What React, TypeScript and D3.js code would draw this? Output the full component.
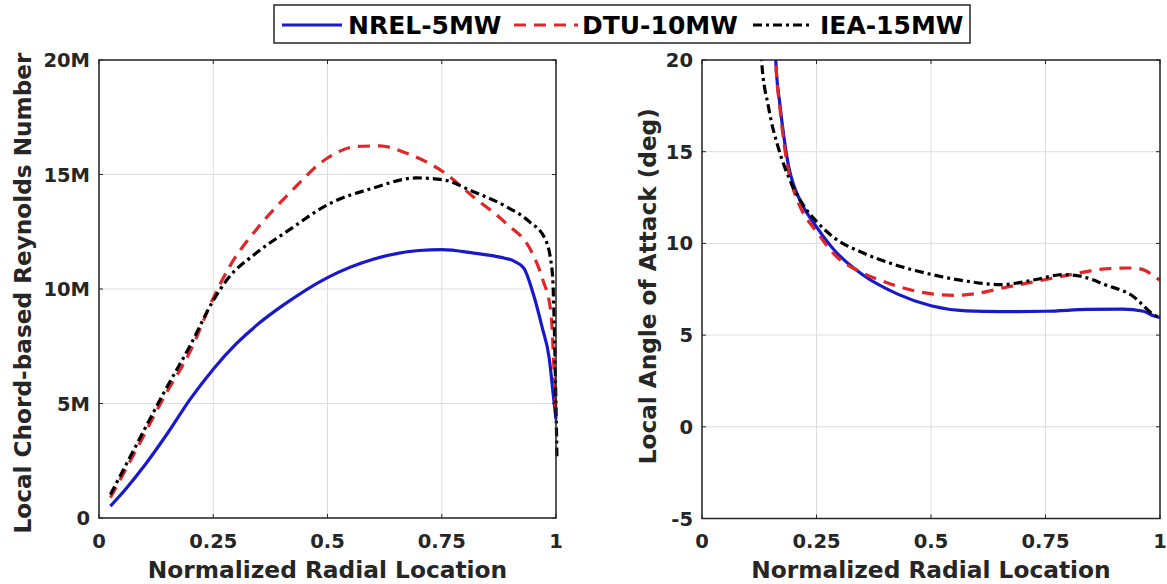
import React from "react";
import * as d3 from "d3";

// ---------- data ----------
const seriesNames = ["NREL-5MW", "DTU-10MW", "IEA-15MW"];
const xTicks = [0, 0.25, 0.5, 0.75, 1];
const xTickLabels = ["0", "0.25", "0.5", "0.75", "1"];
const reTicks = [0, 5, 10, 15, 20];
const reTickLabels = ["0", "5M", "10M", "15M", "20M"];
const aoaTicks = [-5, 0, 5, 10, 15, 20];
const aoaTickLabels = ["-5", "0", "5", "10", "15", "20"];

// Reynolds number (millions)
const reNrelR = [0.025, 0.06, 0.1, 0.15, 0.2, 0.25, 0.3, 0.35, 0.4, 0.5, 0.6, 0.7, 0.75, 0.82, 0.88, 0.91, 0.93, 0.95, 0.97, 0.985, 0.995, 1.0];
const reNrelV = [0.52, 1.3, 2.3, 3.7, 5.2, 6.5, 7.6, 8.5, 9.25, 10.5, 11.3, 11.68, 11.72, 11.57, 11.38, 11.2, 10.9, 9.8, 8.3, 7.0, 5.2, 4.3];
const reDtuR = [0.025, 0.09, 0.14, 0.2, 0.25, 0.286, 0.344, 0.417, 0.5, 0.563, 0.614, 0.672, 0.752, 0.818, 0.89, 0.948, 0.971, 0.989, 0.996, 1.0];
const reDtuV = [0.89, 3.3, 5.2, 7.3, 9.6, 10.99, 12.59, 14.19, 15.72, 16.22, 16.25, 15.94, 15.13, 14.04, 12.88, 11.57, 10.41, 8.96, 6.34, 4.6];
const reIeaR = [0.025, 0.09, 0.14, 0.2, 0.25, 0.28, 0.344, 0.417, 0.5, 0.6, 0.694, 0.752, 0.818, 0.89, 0.941, 0.977, 0.992, 0.997, 1.0, 1.002];
const reIeaV = [1.03, 3.5, 5.4, 7.55, 9.5, 10.4, 11.57, 12.59, 13.68, 14.41, 14.85, 14.77, 14.26, 13.61, 12.95, 12.15, 10.7, 7.79, 4.88, 2.7];

// Angle of attack (deg)
const aoaNrelR = [0.157, 0.161, 0.17, 0.18, 0.19, 0.2, 0.215, 0.25, 0.29, 0.35, 0.426, 0.5, 0.577, 0.653, 0.75, 0.842, 0.918, 0.964, 0.986, 1.0];
const aoaNrelV = [23, 20, 17.6, 15.6, 14.1, 13.2, 12.3, 10.9, 9.6, 8.3, 7.25, 6.6, 6.32, 6.28, 6.3, 6.4, 6.42, 6.3, 6.05, 5.95];
const aoaDtuR = [0.157, 0.161, 0.17, 0.18, 0.19, 0.2, 0.215, 0.25, 0.289, 0.35, 0.388, 0.45, 0.502, 0.556, 0.607, 0.653, 0.75, 0.805, 0.88, 0.941, 0.971, 0.986, 1.0];
const aoaDtuV = [23, 20, 17.4, 15.3, 13.8, 12.9, 11.95, 10.65, 9.4, 8.4, 8.0, 7.5, 7.25, 7.17, 7.3, 7.55, 8.03, 8.3, 8.61, 8.66, 8.48, 8.21, 8.0];
const aoaIeaR = [0.127, 0.13, 0.145, 0.168, 0.191, 0.221, 0.25, 0.289, 0.35, 0.426, 0.502, 0.577, 0.653, 0.729, 0.789, 0.827, 0.88, 0.941, 0.986, 1.0];
const aoaIeaV = [23, 20, 17.46, 15.1, 13.5, 12.1, 11.2, 10.3, 9.5, 8.8, 8.3, 7.94, 7.75, 8.03, 8.3, 8.21, 7.75, 7.12, 6.12, 5.95];

// ---------- styles ----------
const colors = ["#1818cc", "#e02626", "#000000"];
const dashes = ["none", "12,8", "9,4,3,4"];
const FONT = "'DejaVu Sans', sans-serif";
const TXT = "#262626";

type Pt = [number, number];
const zip = (a: number[], b: number[]): Pt[] => a.map((v, i) => [v, b[i]]);

const reSeries = [zip(reNrelR, reNrelV), zip(reDtuR, reDtuV), zip(reIeaR, reIeaV)];
const aoaSeries = [zip(aoaNrelR, aoaNrelV), zip(aoaDtuR, aoaDtuV), zip(aoaIeaR, aoaIeaV)];

function Panel(props: {
  id: string;
  x0: number; x1: number; y0: number; y1: number;
  yDomain: [number, number];
  yTicks: number[]; yTickLabels: string[];
  series: Pt[][];
  yLabel: string; yLabelX: number; yLabelDy: number;
}) {
  const { id, x0, x1, y0, y1, yDomain, yTicks, yTickLabels, series, yLabel, yLabelX, yLabelDy } = props;
  const x = d3.scaleLinear().domain([0, 1]).range([x0, x1]);
  const y = d3.scaleLinear().domain(yDomain).range([y1, y0]);
  const line = d3.line<Pt>().x(d => x(d[0])).y(d => y(d[1])).curve(d3.curveMonotoneX);
  return (
    <g>
      <defs>
        <clipPath id={id}>
          <rect x={x0 - 6} y={y0} width={x1 - x0 + 12} height={y1 - y0} />
        </clipPath>
      </defs>
      <rect x={x0} y={y0} width={x1 - x0} height={y1 - y0} fill="#fff" />
      {xTicks.map((t, i) => (
        <line key={"gx" + i} x1={x(t)} x2={x(t)} y1={y0} y2={y1} stroke="#dedede" strokeWidth={1} />
      ))}
      {yTicks.map((t, i) => (
        <line key={"gy" + i} x1={x0} x2={x1} y1={y(t)} y2={y(t)} stroke="#dedede" strokeWidth={1} />
      ))}
      {xTicks.map((t, i) => (
        <g key={"tx" + i}>
          <line x1={x(t)} x2={x(t)} y1={y1} y2={y1 - 4} stroke={TXT} strokeWidth={1} />
          <line x1={x(t)} x2={x(t)} y1={y0} y2={y0 + 4} stroke={TXT} strokeWidth={1} />
        </g>
      ))}
      {yTicks.map((t, i) => (
        <g key={"ty" + i}>
          <line x1={x0} x2={x0 + 4} y1={y(t)} y2={y(t)} stroke={TXT} strokeWidth={1} />
          <line x1={x1} x2={x1 - 4} y1={y(t)} y2={y(t)} stroke={TXT} strokeWidth={1} />
        </g>
      ))}
      <g clipPath={`url(#${id})`}>
        {series.map((s, i) => (
          <path key={"s" + i} d={line(s) || ""} fill="none" stroke={colors[i]} strokeWidth={3.2}
            strokeDasharray={dashes[i]} strokeLinejoin="round" />
        ))}
      </g>
      <rect x={x0} y={y0} width={x1 - x0} height={y1 - y0} fill="none" stroke={TXT} strokeWidth={1.5} />
      {xTicks.map((t, i) => (
        <text key={"lx" + i} x={x(t)} y={548} textAnchor="middle" fontFamily={FONT} fontWeight="bold" fontSize={19.5} fill={TXT}>
          {xTickLabels[i]}
        </text>
      ))}
      {yTicks.map((t, i) => (
        <text key={"ly" + i} x={x0 - 9} y={y(t)} dy="0.36em" textAnchor="end" fontFamily={FONT} fontWeight="bold" fontSize={19.5} fill={TXT}>
          {yTickLabels[i]}
        </text>
      ))}
      <text x={(x0 + x1) / 2} y={578} textAnchor="middle" fontFamily={FONT} fontWeight="bold" fontSize={23.3} fill={TXT}>
        Normalized Radial Location
      </text>
      <text transform={`translate(${yLabelX},${(y0 + y1) / 2 + yLabelDy}) rotate(-90)`} textAnchor="middle" fontFamily={FONT} fontWeight="bold" fontSize={23.2} fill={TXT}>
        {yLabel}
      </text>
    </g>
  );
}

export default function App() {
  const legendItems = [
    { lx1: 282, lx2: 342, tx: 348 },
    { lx1: 514, lx2: 578, tx: 582 },
    { lx1: 753, lx2: 813, tx: 820 },
  ];
  return (
    <svg width={1167} height={584} style={{ position: "absolute", left: 0, top: 0, background: "#fff" }}>
      <rect x={0} y={0} width={1167} height={584} fill="#fff" />
      <Panel id="clipL" x0={99} x1={556} y0={60} y1={518} yDomain={[0, 20]} yTicks={reTicks} yTickLabels={reTickLabels}
        series={reSeries} yLabel="Local Chord-based Reynolds Number" yLabelX={31} yLabelDy={4} />
      <Panel id="clipR" x0={702} x1={1160} y0={60} y1={518.5} yDomain={[-5, 20]} yTicks={aoaTicks} yTickLabels={aoaTickLabels}
        series={aoaSeries} yLabel="Local Angle of Attack (deg)" yLabelX={656} yLabelDy={-3} />
      <g>
        <rect x={274} y={5} width={696} height={38} fill="#fff" stroke={TXT} strokeWidth={1.5} />
        {legendItems.map((it, i) => (
          <g key={"lg" + i}>
            <line x1={it.lx1} x2={it.lx2} y1={25} y2={25} stroke={colors[i]} strokeWidth={3.2} strokeDasharray={dashes[i]} />
            <text x={it.tx} y={34} fontFamily={FONT} fontWeight="bold" fontSize={25} fill="#000">
              {seriesNames[i]}
            </text>
          </g>
        ))}
      </g>
    </svg>
  );
}
